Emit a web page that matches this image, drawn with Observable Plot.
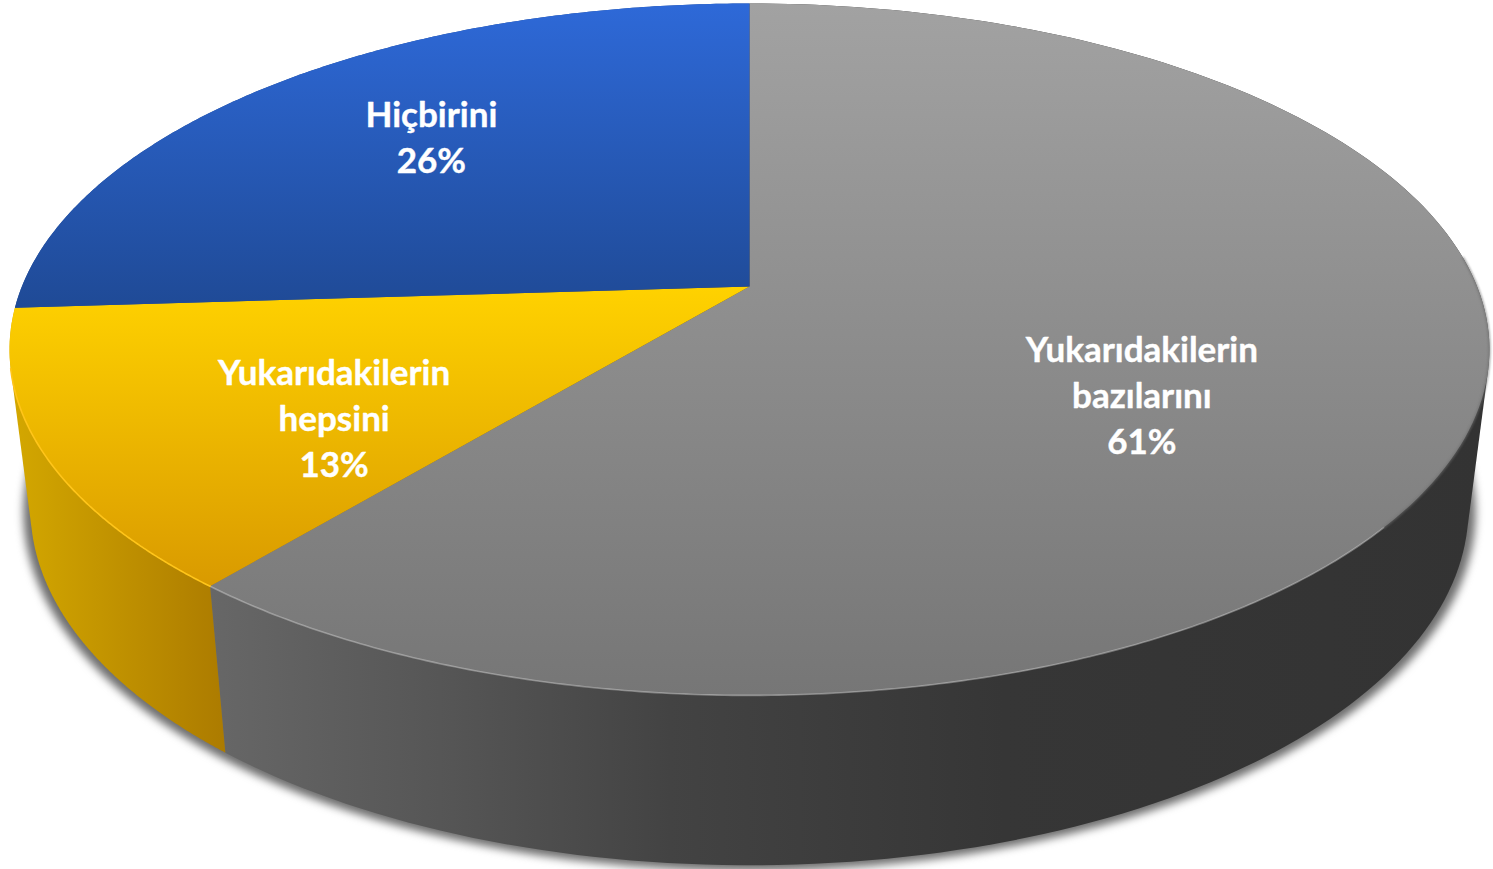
<!DOCTYPE html>
<html><head><meta charset="utf-8">
<script src="https://cdn.jsdelivr.net/npm/d3@7"></script>
<script src="https://cdn.jsdelivr.net/npm/@observablehq/plot@0.6"></script>
<style>html,body{margin:0;padding:0;background:#fff}svg{display:block}</style>
</head><body><div id="chart"></div>
<script>
// data, clockwise from twelve o'clock
const categories = ["Yukarıdakilerin bazılarını", "Yukarıdakilerin hepsini", "Hiçbirini"];
const shares = [61, 13, 26];
const labelLines = ["Yukarıdakilerin\nbazılarını", "Yukarıdakilerin\nhepsini", "Hiçbirini"];
const labelRadius = [0.592, 0.645, 0.686];
const labelSpot = [0.549, 0.345, 0.53];
const topFills = ["url(#topGrey)", "url(#topGold)", "url(#topBlue)"];
const wallFills = ["url(#wallGrey)", "url(#wallGold)", "#1f4a96"];
const rimColors = ["rgba(255,255,255,.32)", "#ffc51a", "none"];

// perspective of the tilted disc
const W = 1493, H = 869, cx = 749, tilt = 0.182;
const topDisc = {cy: 286, a: 727.6, b: 334.5};
const lowDisc = {cy: 443, a: 707, b: 345};
const shadowDisc = {cy: 446, a: 714, b: 347};
const project = (disc, r, deg) => {
  const t = deg * Math.PI / 180, u = r * Math.sin(t), v = r * Math.cos(t), w = 1 + tilt * v;
  return [cx + disc.a * u / w, disc.cy - disc.b * v / w];
};
const total = d3.sum(shares);
const edges = [0, ...d3.cumsum(shares).map((s) => s / total * 360)];
const arc = (disc, from, to) => d3.range(0, 181).map((i) => project(disc, 1, from + (to - from) * i / 180));
const toRows = (pts) => pts.map(([x, y]) => ({x, y}));

const marks = [];
// gradients
marks.push(() => {
  const ns = "http://www.w3.org/2000/svg";
  const defs = document.createElementNS(ns, "defs");
  const grad = (id, vertical, stops) => {
    const g = document.createElementNS(ns, "linearGradient");
    g.setAttribute("id", id);
    g.setAttribute("x1", 0); g.setAttribute("y1", 0);
    g.setAttribute("x2", vertical ? 0 : 1); g.setAttribute("y2", vertical ? 1 : 0);
    stops.forEach(([o, c]) => {
      const s = document.createElementNS(ns, "stop");
      s.setAttribute("offset", o); s.setAttribute("stop-color", c);
      g.appendChild(s);
    });
    defs.appendChild(g);
  };
  grad("topGrey", true, [[0, "#a2a2a2"], [1, "#767676"]]);
  grad("topGold", true, [[0, "#ffd200"], [1, "#d99a00"]]);
  grad("topBlue", true, [[0, "#2e69d8"], [1, "#1f4a96"]]);
  grad("wallGrey", false, [[0, "#676767"], [0.19, "#555555"], [0.36, "#434343"], [0.62, "#363636"], [1, "#333333"]]);
  grad("wallGold", false, [[0, "#d4a800"], [1, "#ac7b00"]]);
  return defs;
});
// soft shadow under the disc
marks.push(Plot.line(toRows(arc(shadowDisc, 0, 360)), {
  x: "x", y: "y", curve: "linear-closed", fill: "#6e6e6e", stroke: "none", imageFilter: "blur(4px)"
}));
// walls, drawn back to front
[2, 0, 1].forEach((i) => {
  const hull = d3.polygonHull([...arc(topDisc, edges[i], edges[i + 1]), ...arc(lowDisc, edges[i], edges[i + 1])]);
  marks.push(Plot.line(toRows(hull), {x: "x", y: "y", curve: "linear-closed", fill: wallFills[i], stroke: "none"}));
});
// top face
shares.forEach((_, i) => {
  const pts = [project(topDisc, 0, 0), ...arc(topDisc, edges[i], edges[i + 1])];
  marks.push(Plot.line(toRows(pts), {x: "x", y: "y", curve: "linear-closed", fill: topFills[i], stroke: "none"}));
});
// bevel highlight along the front rim
[0, 1].forEach((i) => {
  const from = i === 0 ? edges[1] - 90 : edges[1];
  const to = i === 0 ? edges[1] : edges[2] - 10;
  marks.push(Plot.line(toRows(arc(topDisc, from, to)), {x: "x", y: "y", stroke: rimColors[i], strokeWidth: 1.6, imageFilter: "blur(.4px)"}));
});
// soft edge where the lit face meets the dark wall on the right
marks.push(Plot.line(toRows(arc(topDisc, 85, edges[1] - 90)), {x: "x", y: "y", stroke: "rgba(110,110,110,.7)", strokeWidth: 2, imageFilter: "blur(.8px)"}));
// labels
const labels = shares.map((s, i) => {
  const deg = edges[i] + (edges[i + 1] - edges[i]) * labelSpot[i];
  const [x, y] = project(topDisc, labelRadius[i], deg);
  return {x, y, text: `${labelLines[i]}\n${s}%`};
});
marks.push(Plot.text(labels, {
  x: "x", y: "y", text: "text", fill: "#fff", stroke: "#fff", strokeWidth: 0.4, fontSize: 35, fontWeight: 700, lineHeight: 1.31,
  fontFamily: "Lato", lineAnchor: "middle", textAnchor: "middle"
}));

const chart = Plot.plot({
  width: W, height: H, margin: 0,
  x: {domain: [0, W], range: [0, W], axis: null},
  y: {domain: [0, H], range: [0, H], axis: null},
  style: {background: "#fff"},
  marks
});
document.getElementById("chart").appendChild(chart);
</script>
</body></html>
